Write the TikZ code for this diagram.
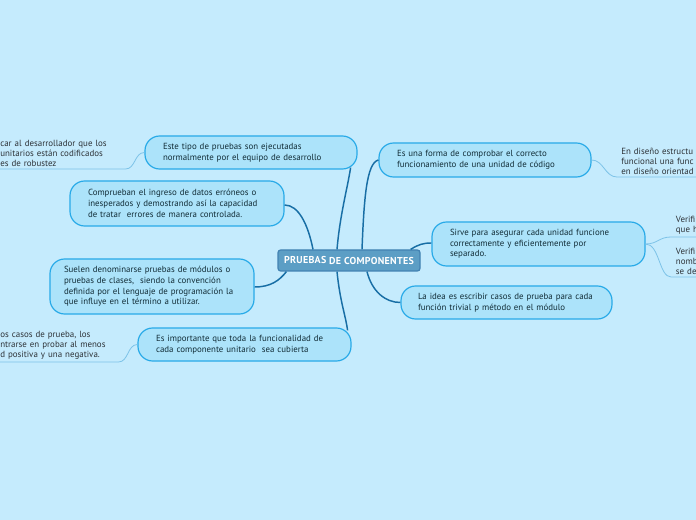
\documentclass[tikz,border=0pt]{standalone}
\usepackage{fontspec}
\setmainfont{PT Sans}
\usetikzlibrary{calc}
\definecolor{bgc}{RGB}{197,235,253}
\definecolor{bubfill}{RGB}{172,227,250}
\definecolor{bubdraw}{RGB}{40,170,232}
\definecolor{cfill}{RGB}{92,158,197}
\definecolor{cdraw}{RGB}{66,130,178}
\definecolor{mainline}{RGB}{24,110,165}
\definecolor{subline}{RGB}{125,195,232}
\definecolor{btext}{RGB}{18,45,55}
\definecolor{ptext}{RGB}{45,50,55}
\tikzset{
  bubble/.style={draw=bubdraw, fill=bubfill, line width=0.9pt, rounded corners=11pt,
    text=btext, align=left, text width=#1, inner xsep=13.5pt, inner ysep=0pt,
    font=\fontsize{6.65pt}{8pt}\selectfont},
  centralnode/.style={draw=cdraw, fill=cfill, line width=0.9pt, rounded corners=2pt,
    text=white, font=\fontsize{7.5pt}{8pt}\selectfont\bfseries\addfontfeature{LetterSpace=3}, minimum width=106.5pt,
    minimum height=15.75pt, inner sep=0pt},
  plaintext/.style={text=ptext, align=left, inner xsep=0pt, inner ysep=1.5pt,
    font=\fontsize{6.7pt}{7.7pt}\selectfont},
  mainconn/.style={draw=mainline, line width=1.1pt},
  subconn/.style={draw=subline, line width=0.6pt},
}
\begin{document}
\begin{tikzpicture}[x=0.75pt,y=-0.75pt]
\useasboundingbox[fill=bgc] (0,0) rectangle (696,520);

\node[centralnode] (c) at (349,260.5) {\raisebox{1pt}{PRUEBAS} DE COMPONENTES};

\node[bubble=132pt, minimum height=24.75pt] (b1) at (251,152.5)
  {Este tipo de pruebas son ejecutadas\\normalmente por el equipo de desarrollo};
\node[bubble=133.5pt, minimum height=33.75pt] (b2) at (177,203.5)
  {Comprueban el ingreso de datos erróneos o\\inesperados y demostrando así la capacidad\\de tratar\ \ errores de manera controlada.};
\node[bubble=132pt, minimum height=41.25pt, inner xsep=10.5pt] (b3) at (152,286.5)
  {Suelen denominarse pruebas de módulos o\\pruebas de clases,\ \ siendo la convención\\definida por el lenguaje de programación la\\que influye en el término a utilizar.};
\node[bubble=132.75pt, minimum height=24.75pt] (b4) at (244.5,344.5)
  {Es importante que toda la funcionalidad de\\cada componente unitario\ \ sea cubierta};

\node[bubble=132pt, minimum height=25.5pt] (r1) at (485,160)
  {Es una forma de comprobar el correcto\\funcionamiento de una unidad de código};
\node[bubble=132.75pt, minimum height=33pt] (r2) at (538.5,244)
  {Sirve para asegurar cada unidad funcione\\correctamente y eficientemente por\\separado.};
\node[bubble=132.75pt, minimum height=24.75pt, inner xsep=12.75pt] (r3) at (506.5,302.5)
  {La idea es escribir casos de prueba para cada\\función trivial p método en el módulo};

\node[plaintext, text width=93.75pt, anchor=south west] (tl) at (0,169)
  {car al desarrollador que los\\unitarios están codificados\\es de robustez};
\node[plaintext, text width=88.5pt, anchor=south west] (bl) at (0,362)
  {os casos de prueba, los\\ntrarse en probar al menos\\d positiva y una negativa.};
\node[plaintext, text width=80pt, inner xsep=3pt, anchor=south west] (tr) at (617,177)
  {En diseño estructu\\funcional una func\\en diseño orientad};
\node[plaintext, text width=40pt, inner xsep=3.5pt, anchor=south west] (v1) at (671,237)
  {Verifi\\que h};
\node[plaintext, text width=40pt, inner xsep=3.5pt, anchor=south west] (v2) at (671,277)
  {Verifi\\nomb\\se de};

% main connectors
\draw[mainconn] ($(c.north)+(-12,0)$) .. controls +(3,-35) and +(-3,20) .. ($(b1.south east)+(-7,-2)$);
\draw[mainconn] ($(c.north)+(-36,0)$) .. controls +(-5,-25) and +(14,0) .. ($(b2.east)+(0,1.5)$);
\draw[mainconn] ($(c.south west)+(9,0)$) .. controls +(-7,9) and +(16,0) .. ($(b3.east)+(0,0.5)$);
\draw[mainconn] ($(c.south)+(-12,0)$) .. controls +(3,30) and +(-2,-15) .. ($(b4.north east)+(-4,3)$);
\draw[mainconn] ($(c.north)+(13,0)$) .. controls +(2,-50) and +(-12,3) .. (r1.west);
\draw[mainconn] ($(c.north east)+(-10,0)$) .. controls +(8,-5) and +(-8,0) .. ($(r2.west)+(0,-1)$);
\draw[mainconn] ($(c.south)+(18,0)$) .. controls +(5,20) and +(-15,0) .. (r3.west);

% secondary connectors
\draw[subconn] (b1.west) .. controls +(-10,0) and +(10,0) .. (tl.south east) -- (tl.south west);
\draw[subconn] (b4.west) .. controls +(-10,0) and +(10,0) .. (bl.south east) -- (bl.south west);
\draw[subconn] (r1.east) .. controls +(12,0) and +(-12,0) .. (tr.south west) -- (tr.south east);
\draw[subconn] (r2.east) .. controls +(12,0) and +(-12,0) .. (v1.south west) -- (v1.south east);
\draw[subconn] (r2.east) .. controls +(14,0) and +(-12,0) .. (v2.south west) -- (v2.south east);
\end{tikzpicture}
\end{document}
